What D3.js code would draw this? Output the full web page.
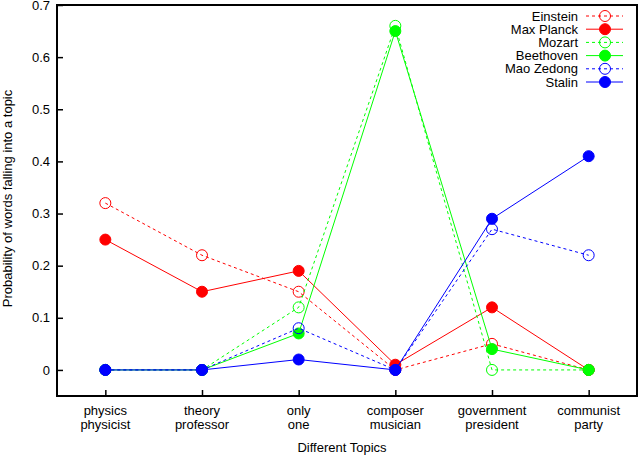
<!DOCTYPE html>
<html>
<head>
<meta charset="utf-8">
<script src="https://cdn.jsdelivr.net/npm/d3@7"></script>
<style>
  body { margin: 0; background: #fff; }
  svg { display: block; font-family: "Liberation Sans", Arial, sans-serif; }
</style>
</head>
<body>
<svg id="chart" width="640" height="456"></svg>
<script>
const topics = [
    ['physics', 'physicist'],
    ['theory', 'professor'],
    ['only', 'one'],
    ['composer', 'musician'],
    ['government', 'president'],
    ['communist', 'party']
];
const yTicks = [0, 0.1, 0.2, 0.3, 0.4, 0.5, 0.6, 0.7];

const einstein = [0.32, 0.22, 0.15, 0, 0.05, 0];
const maxPlanck = [0.25, 0.15, 0.19, 0.01, 0.12, 0];
const mozart = [0, 0, 0.12, 0.66, 0, 0];
const beethoven = [0, 0, 0.07, 0.65, 0.04, 0];
const maoZedong = [0, 0, 0.08, 0, 0.27, 0.22];
const stalin = [0, 0, 0.02, 0, 0.29, 0.41];

const series = [
    { name: 'Einstein', values: einstein, color: '#ff0000', dashed: true, filled: false },
    { name: 'Max Planck', values: maxPlanck, color: '#ff0000', dashed: false, filled: true },
    { name: 'Mozart', values: mozart, color: '#00ff00', dashed: true, filled: false },
    { name: 'Beethoven', values: beethoven, color: '#00ff00', dashed: false, filled: true },
    { name: 'Mao Zedong', values: maoZedong, color: '#0000ff', dashed: true, filled: false },
    { name: 'Stalin', values: stalin, color: '#0000ff', dashed: false, filled: true }
];

const svg = d3.select('#chart');
const plotLeft = 57, plotRight = 637, plotTop = 5, plotBottom = 396;
const fontSize = 13;

const x = d3.scaleLinear().domain([-0.5, 5.5]).range([plotLeft, plotRight]);
const y = d3.scaleLinear().domain([-0.05, 0.7]).range([plotBottom, plotTop]);

// axes with inward ticks
const yAxis = d3.axisLeft(y).tickValues(yTicks).tickSizeInner(-6).tickSizeOuter(0).tickPadding(7)
    .tickFormat(d => d === 0 ? '0' : d3.format('.1f')(d));
const gy = svg.append('g').attr('transform', `translate(${plotLeft},0)`).call(yAxis);
gy.select('.domain').remove();
gy.selectAll('line').attr('stroke', '#000').attr('stroke-width', 1.5);
gy.selectAll('text').attr('font-size', fontSize).attr('fill', '#000')
    .attr('font-family', '"Liberation Sans", Arial, sans-serif');

const xAxis = d3.axisBottom(x).tickValues(d3.range(topics.length)).tickSizeInner(-6).tickSizeOuter(0)
    .tickFormat('');
const gx = svg.append('g').attr('transform', `translate(0,${plotBottom})`).call(xAxis);
gx.select('.domain').remove();
gx.selectAll('line').attr('stroke', '#000').attr('stroke-width', 1.5);

topics.forEach((t, i) => {
    const lbl = svg.append('text').attr('x', x(i)).attr('y', 415)
        .attr('text-anchor', 'middle').attr('font-size', fontSize);
    lbl.append('tspan').attr('x', x(i)).attr('dy', 0).text(t[0]);
    lbl.append('tspan').attr('x', x(i)).attr('dy', 14).text(t[1]);
});

svg.append('text').attr('x', 342).attr('y', 452)
    .attr('text-anchor', 'middle').attr('font-size', fontSize).text('Different Topics');

svg.append('text').attr('transform', `translate(12,${(plotTop + plotBottom) / 2 - 2}) rotate(-90)`)
    .attr('text-anchor', 'middle').attr('font-size', fontSize)
    .text('Probability of words falling into a topic');

// series
const line = d3.line().x((d, i) => x(i)).y(d => y(d));

series.forEach(s => {
    const g = svg.append('g');
    g.append('path').datum(s.values).attr('d', line)
        .attr('fill', 'none').attr('stroke', s.color).attr('stroke-width', 1)
        .attr('stroke-dasharray', s.dashed ? '3,3' : null);
    g.selectAll('circle').data(s.values).join('circle')
        .attr('cx', (d, i) => x(i)).attr('cy', d => y(d))
        .attr('r', 5.5)
        .attr('fill', s.filled ? s.color : 'none')
        .attr('stroke', s.color).attr('stroke-width', 1);
});

// legend
const legend = svg.append('g');
series.forEach((s, i) => {
    const ly = 16 + i * 13.2;
    legend.append('text').attr('x', 578).attr('y', ly + 4.5)
        .attr('text-anchor', 'end').attr('font-size', fontSize).text(s.name);
    legend.append('line').attr('x1', 586).attr('x2', 623).attr('y1', ly).attr('y2', ly)
        .attr('stroke', s.color).attr('stroke-width', 1)
        .attr('stroke-dasharray', s.dashed ? '3,3' : null);
    legend.append('circle').attr('cx', 605).attr('cy', ly).attr('r', 5.5)
        .attr('fill', s.filled ? s.color : 'none').attr('stroke', s.color);
});

// frame
svg.append('rect').attr('x', plotLeft).attr('y', plotTop)
    .attr('width', plotRight - plotLeft).attr('height', plotBottom - plotTop)
    .attr('fill', 'none').attr('stroke', '#000').attr('stroke-width', 2);
</script>
</body>
</html>
